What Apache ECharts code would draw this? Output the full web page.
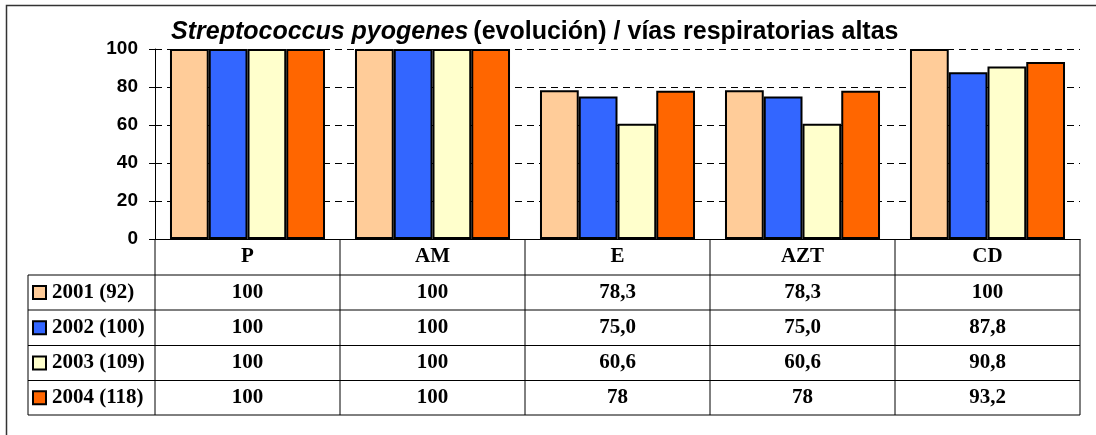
<!DOCTYPE html>
<html>
<head>
<meta charset="utf-8">
<script src="https://cdn.jsdelivr.net/npm/echarts@6/dist/echarts.min.js"></script>
<style>
  html, body { margin: 0; padding: 0; background: #fff; }
  #chart { width: 1096px; height: 435px; }
</style>
</head>
<body>
<div id="chart"></div>
<script>
// datos
const categories = ['P', 'AM', 'E', 'AZT', 'CD'];
const seriesNames = ['2001 (92)', '2002 (100)', '2003 (109)', '2004 (118)'];
const colors = ['#FFCC99', '#3366FF', '#FFFFCC', '#FF6600'];
// valores tal como aparecen en la tabla
const vals2001 = ['100', '100', '78,3', '78,3', '100'];
const vals2002 = ['100', '100', '75,0', '75,0', '87,8'];
const vals2003 = ['100', '100', '60,6', '60,6', '90,8'];
const vals2004 = ['100', '100', '78', '78', '93,2'];
const yTicks = [0, 20, 40, 60, 80, 100];

const tableRows = [vals2001, vals2002, vals2003, vals2004];
const toNum = s => parseFloat(s.replace(',', '.'));

const sans = '"Liberation Sans", Arial, sans-serif';
const serif = '"Liberation Serif", "Times New Roman", serif';

const chart = echarts.init(document.getElementById('chart'));

const option = {
  animation: false,
  title: {
    text: '{it|Streptococcus pyogenes} {n|(evolución) / vías respiratorias altas}',
    left: 166,
    top: 15,
    textStyle: {
      rich: {
        it: { fontFamily: sans, fontSize: 25, fontWeight: 'bold', fontStyle: 'italic', color: '#000' },
        n: { fontFamily: sans, fontSize: 25, fontWeight: 'bold', color: '#000' }
      }
    }
  },
  grid: { left: 155, right: 16, top: 49, bottom: 196, containLabel: false },
  xAxis: {
    type: 'category',
    data: categories,
    axisLine: { lineStyle: { color: '#000', width: 1 } },
    axisTick: { show: false },
    axisLabel: {
      margin: 8,
      fontFamily: serif, fontSize: 21, fontWeight: 'bold', color: '#000', lineHeight: 20
    }
  },
  yAxis: {
    type: 'value',
    min: yTicks[0],
    max: yTicks[yTicks.length - 1],
    interval: yTicks[1] - yTicks[0],
    axisLine: { show: true, lineStyle: { color: '#000', width: 1 } },
    axisTick: { show: true, length: 6, lineStyle: { color: '#000' } },
    axisLabel: {
      margin: 17,
      fontFamily: sans, fontSize: 19, fontWeight: 'bold', color: '#000'
    },
    splitLine: { lineStyle: { color: '#000', width: 1, type: [7, 5] } }
  },
  series: tableRows.map((row, i) => ({
    name: seriesNames[i],
    type: 'bar',
    data: row.map(toNum),
    barGap: '0%',
    barCategoryGap: '16.2%',
    itemStyle: { color: colors[i], borderColor: '#000', borderWidth: 2 }
  }))
};
chart.setOption(option);

// tabla de datos debajo del grafico
function drawTable() {
  const centers = categories.map(c => chart.convertToPixel({ xAxisIndex: 0 }, c));
  const step = centers[1] - centers[0];
  const x0 = centers[0] - step / 2;
  const x1 = centers[centers.length - 1] + step / 2;
  const yAxisBottom = chart.convertToPixel({ yAxisIndex: 0 }, 0);
  const tableLeft = 28;
  const rowTops = [275, 310, 345.5, 380.5, 415];
  const els = [];
  const line = (ax, ay, bx, by) => els.push({
    type: 'line', shape: { x1: ax, y1: ay, x2: bx, y2: by },
    style: { stroke: '#000', lineWidth: 1 }, silent: true
  });

  rowTops.forEach(y => line(tableLeft, y, x1, y));
  line(tableLeft, rowTops[0], tableLeft, rowTops[rowTops.length - 1]);
  for (let k = 0; k <= categories.length; k++) {
    const x = x0 + k * step;
    line(x, yAxisBottom, x, rowTops[rowTops.length - 1]);
  }

  tableRows.forEach((row, i) => {
    const cy = (rowTops[i] + rowTops[i + 1]) / 2;
    els.push({
      type: 'rect', shape: { x: 33, y: cy - 6.5, width: 13, height: 13 },
      style: { fill: colors[i], stroke: '#000', lineWidth: 2 }, silent: true
    });
    els.push({
      type: 'text', x: 52, y: cy,
      style: { text: seriesNames[i], fontFamily: serif, fontSize: 21, fontWeight: 'bold',
               fill: '#000', verticalAlign: 'middle', align: 'left' }, silent: true
    });
    row.forEach((v, j) => {
      els.push({
        type: 'text', x: centers[j], y: cy,
        style: { text: v, fontFamily: serif, fontSize: 21, fontWeight: 'bold',
                 fill: '#000', verticalAlign: 'middle', align: 'center' }, silent: true
      });
    });
  });

  // marco exterior
  els.push({
    type: 'polyline', shape: { points: [[6.5, 435], [6.5, 5.5], [1096, 5.5]] },
    style: { stroke: '#333', lineWidth: 1.5, fill: null }, silent: true
  });

  chart.setOption({ graphic: { elements: els } });
}
drawTable();
</script>
</body>
</html>
